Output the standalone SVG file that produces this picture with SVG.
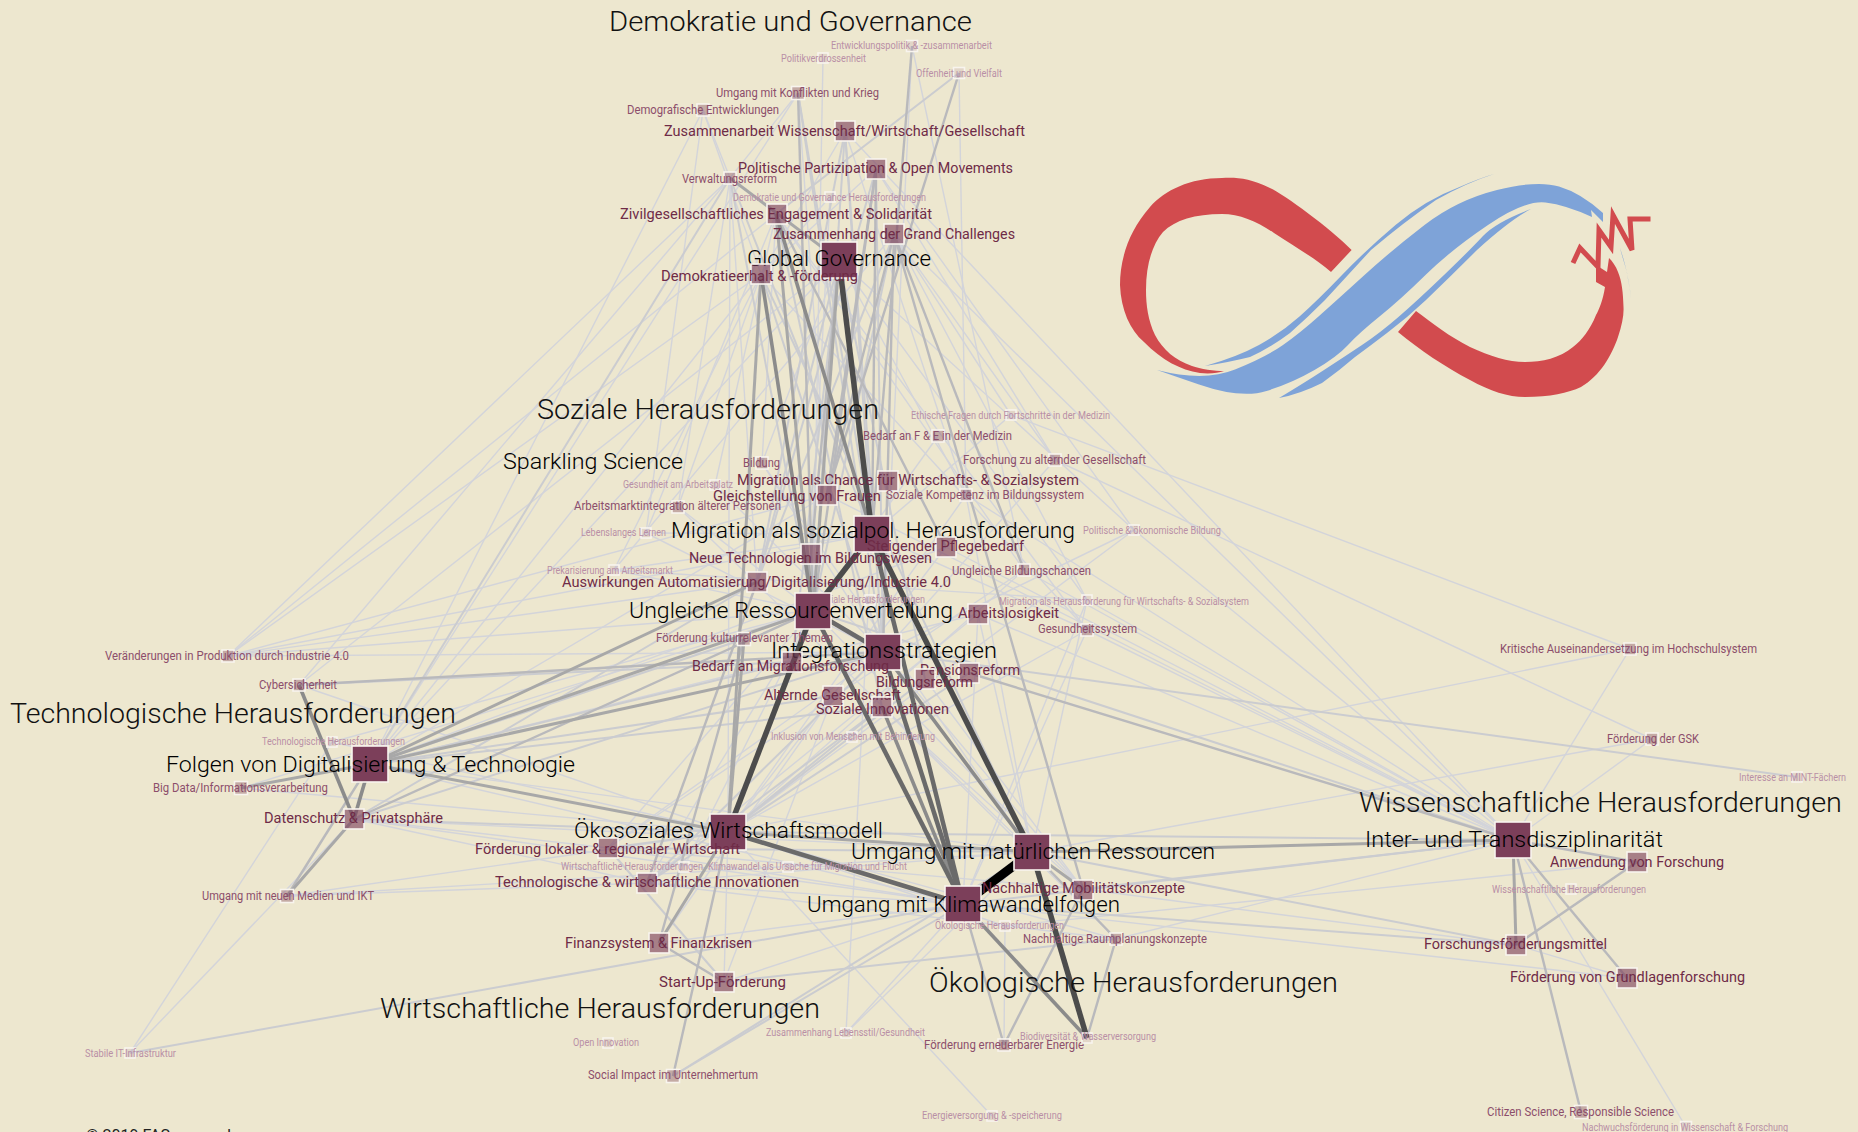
<svg xmlns="http://www.w3.org/2000/svg" width="1858" height="1132" viewBox="0 0 1858 1132">
<style>
text{font-family:Roboto,"Liberation Sans",sans-serif;}
.h{font-size:28px;font-weight:300;fill:#111}
.t22{font-size:22.5px;font-weight:350;fill:#000}
.t16{font-size:15.5px;fill:#6f2b47}
.t12{font-size:12px;fill:#8c4e6b}
.t10{font-size:10px;fill:#b98fa6}
rect{stroke:#f8f4ee;stroke-width:1.6}
.s36{fill:#7c3f5a}
.s20{fill:#7c3f5a;fill-opacity:.62}
.s13{fill:#7c3f5a;fill-opacity:.36}
.s10{fill:#a070a0;fill-opacity:.14}
#edges line{stroke-linecap:butt}
.a{stroke:#d3d4da;stroke-width:1.4}
.b{stroke:#cbccd0;stroke-width:2}
.c{stroke:#b9b9bc;stroke-width:2.4}
.d{stroke:#a8a8a8;stroke-width:3}
.e{stroke:#8b8b8b;stroke-width:3.6}
.f{stroke:#6a6a6a;stroke-width:4.5}
.g{stroke:#4c4c4c;stroke-width:5.5}
.k{stroke:#000;stroke-width:9}
</style>
<rect width="1858" height="1132" style="fill:#ede7cf;stroke:none"/>
<g id="logo" style="stroke:none">
<path fill="#d24b4e" d="M1351.6 250C1330 228 1285 195 1270 188C1250 178 1235 177 1222 178C1190 178 1165 190 1150 207C1128 232 1120 260 1120 285C1121 310 1130 330 1144 342C1162 360 1180 370 1200 373C1210 374 1218 373 1224 371C1215 371 1200 369 1192 366C1175 360 1163 350 1155 335C1148 320 1146 305 1146 290C1146 265 1152 245 1163 232C1175 220 1195 214 1222 214C1240 214 1258 222 1274 233C1295 247 1315 258 1331 272Z"/>
<path fill="#d24b4e" d="M1416 311L1398 332C1420 350 1445 367 1470 380C1490 391 1508 397 1525 397C1550 397 1568 393 1581 387C1600 376 1612 355 1618 337C1622 325 1624 315 1623.5 307C1623 292 1622 282 1618 272C1616 266 1612 261 1609 258L1607 272L1596 265L1596 282L1605 287C1603 300 1599 310 1596 315C1590 330 1582 340 1573 347C1560 358 1542 362 1525 362C1508 362 1490 356 1470 347C1450 337 1432 323 1416 311Z"/>
<path fill="none" stroke="#d24b4e" stroke-width="5" d="M1573 263L1580 248L1598 267L1599 230L1611 247L1613 215L1632 250L1630 219L1650.5 219"/>
<path fill="#7ea3d8" d="M1157 370Q1204 382 1235 369.5Q1266 357 1283 345Q1300 333 1318.5 316.5Q1337 300 1364.5 275Q1392 250 1424.5 225Q1457 200 1497 190Q1537 180 1559 186.5Q1581 193 1603 213L1603 222L1591 210L1592 217Q1566 205 1545.5 202.5Q1525 200 1488 225Q1451 250 1425.5 275Q1400 300 1379.5 316.5Q1359 333 1348 345Q1337 357 1314.5 370Q1292 383 1266.5 391Q1241 399 1199 384.5Q1180 378 1157 370Z"/>
<path fill="#7ea3d8" d="M1205 366Q1237 357 1259 345Q1281 333 1299.5 316.5Q1318 300 1342 275Q1366 250 1395.5 225Q1425 200 1459.5 187Q1480 178 1494 174Q1466 183 1436 200Q1404 222 1371 250Q1348 275 1325 300Q1307 318 1290 333Q1270 348 1250 357Q1230 362 1205 366Z"/>
<path fill="#7ea3d8" d="M1279 398Q1304 383 1324 370Q1344 357 1362 345Q1380 333 1399 316.5Q1418 300 1444 275Q1470 250 1483 236Q1496 222 1531 209Q1510 220 1477 250Q1452 275 1426 300Q1407 318 1387 333Q1370 346 1355 357Q1340 370 1322 383Q1300 394 1279 398Z"/>
<path fill="#7ea3d8" d="M1620 248C1625 262 1629 280 1631 298C1630 288 1628 280 1627 273C1625 265 1622 256 1620 248Z"/>
</g>
<g id="edges">
<line class="a" x1="703" y1="110" x2="370" y2="764"/>
<line class="a" x1="703" y1="110" x2="730" y2="178"/>
<line class="a" x1="703" y1="110" x2="761" y2="274"/>
<line class="a" x1="823" y1="58" x2="813" y2="611"/>
<line class="a" x1="912" y1="46" x2="1024" y2="570"/>
<line class="a" x1="912" y1="46" x2="883" y2="652"/>
<line class="a" x1="959" y1="73" x2="966" y2="495"/>
<line class="a" x1="798" y1="93" x2="730" y2="178"/>
<line class="a" x1="798" y1="93" x2="370" y2="764"/>
<line class="a" x1="798" y1="93" x2="827" y2="495"/>
<line class="a" x1="845" y1="131" x2="1513" y2="840"/>
<line class="a" x1="894" y1="234" x2="1513" y2="840"/>
<line class="a" x1="845" y1="131" x2="761" y2="274"/>
<line class="a" x1="730" y1="178" x2="228" y2="656"/>
<line class="a" x1="730" y1="178" x2="299" y2="685"/>
<line class="a" x1="730" y1="178" x2="757" y2="582"/>
<line class="a" x1="730" y1="178" x2="728" y2="832"/>
<line class="a" x1="830" y1="197" x2="761" y2="274"/>
<line class="a" x1="830" y1="197" x2="811" y2="554"/>
<line class="a" x1="761" y1="274" x2="228" y2="656"/>
<line class="a" x1="761" y1="274" x2="370" y2="764"/>
<line class="a" x1="761" y1="274" x2="1087" y2="630"/>
<line class="a" x1="776" y1="214" x2="228" y2="656"/>
<line class="a" x1="776" y1="214" x2="1087" y2="630"/>
<line class="a" x1="776" y1="214" x2="1024" y2="570"/>
<line class="a" x1="839" y1="260" x2="1134" y2="530"/>
<line class="a" x1="839" y1="260" x2="1087" y2="600"/>
<line class="a" x1="839" y1="260" x2="370" y2="764"/>
<line class="a" x1="839" y1="260" x2="299" y2="685"/>
<line class="a" x1="876" y1="169" x2="1055" y2="460"/>
<line class="a" x1="876" y1="169" x2="1134" y2="530"/>
<line class="a" x1="876" y1="169" x2="761" y2="274"/>
<line class="a" x1="894" y1="234" x2="1011" y2="415"/>
<line class="a" x1="894" y1="234" x2="1087" y2="600"/>
<line class="a" x1="894" y1="234" x2="1055" y2="460"/>
<line class="a" x1="894" y1="234" x2="614" y2="570"/>
<line class="a" x1="730" y1="178" x2="678" y2="507"/>
<line class="a" x1="703" y1="110" x2="646" y2="533"/>
<line class="a" x1="761" y1="274" x2="678" y2="507"/>
<line class="a" x1="761" y1="274" x2="614" y2="570"/>
<line class="a" x1="776" y1="214" x2="646" y2="533"/>
<line class="a" x1="776" y1="214" x2="715" y2="485"/>
<line class="a" x1="839" y1="260" x2="762" y2="463"/>
<line class="a" x1="839" y1="260" x2="966" y2="495"/>
<line class="a" x1="845" y1="131" x2="966" y2="495"/>
<line class="a" x1="776" y1="214" x2="762" y2="463"/>
<line class="a" x1="614" y1="570" x2="813" y2="611"/>
<line class="a" x1="614" y1="570" x2="872" y2="534"/>
<line class="a" x1="614" y1="570" x2="1087" y2="600"/>
<line class="a" x1="646" y1="533" x2="872" y2="534"/>
<line class="a" x1="646" y1="533" x2="883" y2="652"/>
<line class="a" x1="678" y1="507" x2="813" y2="611"/>
<line class="a" x1="678" y1="507" x2="1032" y2="852"/>
<line class="a" x1="715" y1="485" x2="883" y2="652"/>
<line class="a" x1="762" y1="463" x2="883" y2="652"/>
<line class="a" x1="762" y1="463" x2="1032" y2="852"/>
<line class="a" x1="1011" y1="415" x2="1630" y2="649"/>
<line class="a" x1="1011" y1="415" x2="872" y2="534"/>
<line class="a" x1="938" y1="436" x2="813" y2="611"/>
<line class="a" x1="1055" y1="460" x2="1652" y2="739"/>
<line class="a" x1="1055" y1="460" x2="883" y2="652"/>
<line class="a" x1="966" y1="495" x2="1513" y2="840"/>
<line class="a" x1="966" y1="495" x2="728" y2="832"/>
<line class="a" x1="1134" y1="530" x2="1513" y2="840"/>
<line class="a" x1="1134" y1="530" x2="883" y2="652"/>
<line class="a" x1="1134" y1="530" x2="728" y2="832"/>
<line class="a" x1="1024" y1="570" x2="1513" y2="840"/>
<line class="a" x1="1024" y1="570" x2="728" y2="832"/>
<line class="a" x1="1024" y1="570" x2="608" y2="848"/>
<line class="a" x1="1087" y1="600" x2="1513" y2="840"/>
<line class="a" x1="1087" y1="600" x2="963" y2="904"/>
<line class="a" x1="1087" y1="630" x2="872" y2="534"/>
<line class="a" x1="1087" y1="630" x2="728" y2="832"/>
<line class="a" x1="1087" y1="630" x2="1513" y2="840"/>
<line class="a" x1="1087" y1="630" x2="963" y2="904"/>
<line class="a" x1="978" y1="614" x2="1513" y2="840"/>
<line class="a" x1="978" y1="614" x2="647" y2="883"/>
<line class="a" x1="978" y1="614" x2="370" y2="764"/>
<line class="a" x1="946" y1="547" x2="1513" y2="840"/>
<line class="a" x1="946" y1="547" x2="728" y2="832"/>
<line class="a" x1="946" y1="547" x2="370" y2="764"/>
<line class="a" x1="827" y1="495" x2="1513" y2="840"/>
<line class="a" x1="827" y1="495" x2="370" y2="764"/>
<line class="a" x1="228" y1="656" x2="813" y2="611"/>
<line class="a" x1="228" y1="656" x2="883" y2="652"/>
<line class="a" x1="228" y1="656" x2="872" y2="534"/>
<line class="a" x1="228" y1="656" x2="827" y2="495"/>
<line class="a" x1="228" y1="656" x2="757" y2="582"/>
<line class="a" x1="299" y1="685" x2="728" y2="832"/>
<line class="a" x1="332" y1="742" x2="813" y2="611"/>
<line class="a" x1="332" y1="742" x2="728" y2="832"/>
<line class="a" x1="241" y1="788" x2="728" y2="832"/>
<line class="a" x1="241" y1="788" x2="813" y2="611"/>
<line class="a" x1="287" y1="896" x2="1032" y2="852"/>
<line class="a" x1="287" y1="896" x2="647" y2="883"/>
<line class="a" x1="287" y1="896" x2="728" y2="832"/>
<line class="a" x1="130" y1="1053" x2="332" y2="742"/>
<line class="a" x1="130" y1="1053" x2="354" y2="819"/>
<line class="a" x1="370" y1="764" x2="1032" y2="852"/>
<line class="a" x1="370" y1="764" x2="963" y2="904"/>
<line class="a" x1="354" y1="819" x2="608" y2="848"/>
<line class="a" x1="354" y1="819" x2="647" y2="883"/>
<line class="a" x1="354" y1="819" x2="963" y2="904"/>
<line class="a" x1="354" y1="819" x2="1032" y2="852"/>
<line class="a" x1="608" y1="848" x2="883" y2="652"/>
<line class="a" x1="608" y1="848" x2="813" y2="611"/>
<line class="a" x1="608" y1="848" x2="963" y2="904"/>
<line class="a" x1="647" y1="883" x2="813" y2="611"/>
<line class="a" x1="647" y1="883" x2="1032" y2="852"/>
<line class="a" x1="647" y1="883" x2="963" y2="904"/>
<line class="a" x1="684" y1="867" x2="813" y2="611"/>
<line class="a" x1="659" y1="943" x2="963" y2="904"/>
<line class="a" x1="659" y1="943" x2="833" y2="696"/>
<line class="a" x1="724" y1="982" x2="833" y2="696"/>
<line class="a" x1="724" y1="982" x2="728" y2="832"/>
<line class="a" x1="724" y1="982" x2="963" y2="904"/>
<line class="a" x1="728" y1="832" x2="992" y2="1116"/>
<line class="a" x1="846" y1="1033" x2="963" y2="904"/>
<line class="a" x1="846" y1="1033" x2="1032" y2="852"/>
<line class="a" x1="846" y1="1033" x2="872" y2="534"/>
<line class="a" x1="1004" y1="1045" x2="1005" y2="926"/>
<line class="a" x1="1087" y1="1038" x2="1032" y2="852"/>
<line class="a" x1="1005" y1="926" x2="728" y2="832"/>
<line class="a" x1="1116" y1="939" x2="728" y2="832"/>
<line class="a" x1="1116" y1="939" x2="647" y2="883"/>
<line class="a" x1="1083" y1="889" x2="608" y2="848"/>
<line class="a" x1="1083" y1="889" x2="813" y2="611"/>
<line class="a" x1="1083" y1="889" x2="883" y2="652"/>
<line class="a" x1="1083" y1="889" x2="882" y2="707"/>
<line class="a" x1="1083" y1="889" x2="925" y2="679"/>
<line class="a" x1="1116" y1="939" x2="882" y2="707"/>
<line class="a" x1="963" y1="904" x2="978" y2="614"/>
<line class="a" x1="1032" y1="852" x2="978" y2="614"/>
<line class="a" x1="1032" y1="852" x2="1087" y2="600"/>
<line class="a" x1="1032" y1="852" x2="966" y2="495"/>
<line class="a" x1="1630" y1="649" x2="1513" y2="840"/>
<line class="a" x1="1630" y1="649" x2="728" y2="832"/>
<line class="a" x1="1652" y1="739" x2="1513" y2="840"/>
<line class="a" x1="1652" y1="739" x2="1032" y2="852"/>
<line class="a" x1="1513" y1="840" x2="1686" y2="1127"/>
<line class="a" x1="1516" y1="945" x2="1627" y2="978"/>
<line class="a" x1="1516" y1="945" x2="1083" y2="889"/>
<line class="a" x1="1627" y1="978" x2="963" y2="904"/>
<line class="a" x1="1637" y1="862" x2="1005" y2="926"/>
<line class="a" x1="1513" y1="840" x2="1116" y2="939"/>
<line class="b" x1="959" y1="73" x2="776" y2="214"/>
<line class="b" x1="130" y1="1053" x2="963" y2="904"/>
<line class="b" x1="724" y1="982" x2="1116" y2="939"/>
<line class="b" x1="673" y1="1076" x2="1032" y2="852"/>
<line class="b" x1="673" y1="1076" x2="963" y2="904"/>
<line class="b" x1="608" y1="848" x2="724" y2="982"/>
<line class="b" x1="798" y1="93" x2="883" y2="652"/>
<line class="b" x1="798" y1="93" x2="872" y2="534"/>
<line class="b" x1="845" y1="131" x2="813" y2="611"/>
<line class="b" x1="845" y1="131" x2="872" y2="534"/>
<line class="b" x1="845" y1="131" x2="757" y2="582"/>
<line class="b" x1="845" y1="131" x2="883" y2="652"/>
<line class="b" x1="876" y1="169" x2="757" y2="582"/>
<line class="b" x1="876" y1="169" x2="883" y2="652"/>
<line class="b" x1="776" y1="214" x2="882" y2="707"/>
<line class="b" x1="730" y1="178" x2="872" y2="534"/>
<line class="b" x1="730" y1="178" x2="813" y2="611"/>
<line class="b" x1="730" y1="178" x2="370" y2="764"/>
<line class="b" x1="839" y1="260" x2="757" y2="582"/>
<line class="b" x1="839" y1="260" x2="925" y2="679"/>
<line class="b" x1="839" y1="260" x2="792" y2="662"/>
<line class="b" x1="761" y1="274" x2="883" y2="652"/>
<line class="b" x1="761" y1="274" x2="1032" y2="852"/>
<line class="b" x1="894" y1="234" x2="757" y2="582"/>
<line class="b" x1="894" y1="234" x2="813" y2="611"/>
<line class="b" x1="370" y1="764" x2="833" y2="696"/>
<line class="b" x1="370" y1="764" x2="882" y2="707"/>
<line class="b" x1="370" y1="764" x2="792" y2="662"/>
<line class="b" x1="370" y1="764" x2="744" y2="639"/>
<line class="b" x1="354" y1="819" x2="757" y2="582"/>
<line class="b" x1="354" y1="819" x2="883" y2="652"/>
<line class="b" x1="354" y1="819" x2="728" y2="832"/>
<line class="b" x1="299" y1="685" x2="792" y2="662"/>
<line class="b" x1="728" y1="832" x2="882" y2="707"/>
<line class="b" x1="728" y1="832" x2="925" y2="679"/>
<line class="b" x1="728" y1="832" x2="969" y2="673"/>
<line class="b" x1="647" y1="883" x2="882" y2="707"/>
<line class="b" x1="647" y1="883" x2="883" y2="652"/>
<line class="b" x1="608" y1="848" x2="728" y2="832"/>
<line class="b" x1="608" y1="848" x2="1032" y2="852"/>
<line class="b" x1="647" y1="883" x2="728" y2="832"/>
<line class="b" x1="963" y1="904" x2="1513" y2="840"/>
<line class="b" x1="728" y1="832" x2="1513" y2="840"/>
<line class="b" x1="1083" y1="889" x2="1513" y2="840"/>
<line class="b" x1="1516" y1="945" x2="963" y2="904"/>
<line class="b" x1="1516" y1="945" x2="1032" y2="852"/>
<line class="b" x1="813" y1="611" x2="1513" y2="840"/>
<line class="b" x1="883" y1="652" x2="1797" y2="777"/>
<line class="c" x1="912" y1="46" x2="872" y2="534"/>
<line class="c" x1="959" y1="73" x2="827" y2="495"/>
<line class="c" x1="798" y1="93" x2="813" y2="611"/>
<line class="c" x1="876" y1="169" x2="813" y2="611"/>
<line class="c" x1="876" y1="169" x2="872" y2="534"/>
<line class="c" x1="876" y1="169" x2="827" y2="495"/>
<line class="c" x1="894" y1="234" x2="883" y2="652"/>
<line class="c" x1="894" y1="234" x2="1024" y2="570"/>
<line class="c" x1="894" y1="234" x2="1083" y2="889"/>
<line class="c" x1="894" y1="234" x2="827" y2="495"/>
<line class="c" x1="776" y1="214" x2="946" y2="547"/>
<line class="c" x1="839" y1="260" x2="811" y2="554"/>
<line class="c" x1="969" y1="673" x2="1513" y2="840"/>
<line class="c" x1="299" y1="685" x2="883" y2="652"/>
<line class="c" x1="354" y1="819" x2="813" y2="611"/>
<line class="c" x1="757" y1="582" x2="647" y2="883"/>
<line class="c" x1="659" y1="943" x2="744" y2="639"/>
<line class="c" x1="659" y1="943" x2="724" y2="982"/>
<line class="c" x1="673" y1="1076" x2="728" y2="832"/>
<line class="c" x1="1004" y1="1045" x2="1083" y2="889"/>
<line class="c" x1="1004" y1="1045" x2="963" y2="904"/>
<line class="c" x1="1087" y1="1038" x2="1116" y2="939"/>
<line class="c" x1="1516" y1="945" x2="1637" y2="862"/>
<line class="c" x1="1513" y1="840" x2="1581" y2="1112"/>
<line class="c" x1="1513" y1="840" x2="1627" y2="978"/>
<line class="c" x1="1513" y1="840" x2="1637" y2="862"/>
<line class="c" x1="370" y1="764" x2="287" y2="896"/>
<line class="c" x1="1032" y1="852" x2="1116" y2="939"/>
<line class="d" x1="761" y1="274" x2="728" y2="832"/>
<line class="d" x1="839" y1="260" x2="813" y2="611"/>
<line class="d" x1="776" y1="214" x2="813" y2="611"/>
<line class="d" x1="370" y1="764" x2="757" y2="582"/>
<line class="d" x1="370" y1="764" x2="813" y2="611"/>
<line class="d" x1="370" y1="764" x2="883" y2="652"/>
<line class="d" x1="370" y1="764" x2="728" y2="832"/>
<line class="d" x1="370" y1="764" x2="241" y2="788"/>
<line class="d" x1="744" y1="639" x2="728" y2="832"/>
<line class="d" x1="728" y1="832" x2="1032" y2="852"/>
<line class="d" x1="659" y1="943" x2="728" y2="832"/>
<line class="d" x1="1032" y1="852" x2="1513" y2="840"/>
<line class="d" x1="1513" y1="840" x2="1516" y2="945"/>
<line class="d" x1="1032" y1="852" x2="1083" y2="889"/>
<line class="d" x1="354" y1="819" x2="287" y2="896"/>
<line class="d" x1="730" y1="178" x2="839" y2="260"/>
<line class="e" x1="776" y1="214" x2="872" y2="534"/>
<line class="e" x1="299" y1="685" x2="354" y2="819"/>
<line class="e" x1="370" y1="764" x2="354" y2="819"/>
<line class="e" x1="963" y1="904" x2="1087" y2="1038"/>
<line class="e" x1="883" y1="652" x2="1032" y2="852"/>
<line class="e" x1="882" y1="707" x2="963" y2="904"/>
<line class="e" x1="761" y1="274" x2="813" y2="611"/>
<line class="f" x1="813" y1="611" x2="883" y2="652"/>
<line class="f" x1="813" y1="611" x2="963" y2="904"/>
<line class="f" x1="872" y1="534" x2="963" y2="904"/>
<line class="f" x1="883" y1="652" x2="963" y2="904"/>
<line class="f" x1="728" y1="832" x2="963" y2="904"/>
<line class="g" x1="839" y1="260" x2="872" y2="534"/>
<line class="g" x1="813" y1="611" x2="872" y2="534"/>
<line class="g" x1="813" y1="611" x2="728" y2="832"/>
<line class="g" x1="872" y1="534" x2="1032" y2="852"/>
<line class="g" x1="1032" y1="852" x2="1087" y2="1038"/>
<line class="k" x1="1032" y1="852" x2="963" y2="904"/>
</g>
<g id="cluster-labels">
<text class="h" x="609" y="31" textLength="363" lengthAdjust="spacingAndGlyphs">Demokratie und Governance</text>
<text class="h" x="537" y="419" textLength="342" lengthAdjust="spacingAndGlyphs">Soziale Herausforderungen</text>
<text class="h" x="10" y="723" textLength="446" lengthAdjust="spacingAndGlyphs">Technologische Herausforderungen</text>
<text class="h" x="380" y="1018" textLength="440" lengthAdjust="spacingAndGlyphs">Wirtschaftliche Herausforderungen</text>
<text class="h" x="929" y="992" textLength="409" lengthAdjust="spacingAndGlyphs">Ökologische Herausforderungen</text>
<text class="h" x="1359" y="812" textLength="483" lengthAdjust="spacingAndGlyphs">Wissenschaftliche Herausforderungen</text>
<text class="t22" x="503" y="469" textLength="180" lengthAdjust="spacingAndGlyphs">Sparkling Science</text>
<text x="86" y="1141" style="font-size:16px;fill:#222" textLength="150" lengthAdjust="spacingAndGlyphs">© 2019 FAS.research</text>
</g>
<g id="n1"><rect class="s10" x="906.5" y="40.5" width="11" height="11"/><text class="t10" x="831" y="49" textLength="161" lengthAdjust="spacingAndGlyphs">Entwicklungspolitik &amp; -zusammenarbeit</text></g>
<g id="n2"><rect class="s10" x="818" y="53" width="10" height="10"/><text class="t10" x="781" y="62" textLength="85" lengthAdjust="spacingAndGlyphs">Politikverdrossenheit</text></g>
<g id="n3"><rect class="s10" x="953.5" y="67.5" width="11" height="11"/><text class="t10" x="916" y="77" textLength="86" lengthAdjust="spacingAndGlyphs">Offenheit und Vielfalt</text></g>
<g id="n4"><rect class="s13" x="791.5" y="86.5" width="13" height="13"/><text class="t12" x="716" y="97" textLength="163" lengthAdjust="spacingAndGlyphs">Umgang mit Konflikten und Krieg</text></g>
<g id="n5"><rect class="s13" x="697" y="104" width="12" height="12"/><text class="t12" x="627" y="114" textLength="152" lengthAdjust="spacingAndGlyphs">Demografische Entwicklungen</text></g>
<g id="n6"><rect class="s20" x="835" y="121" width="20" height="20"/><text class="t16" x="664" y="136" textLength="361" lengthAdjust="spacingAndGlyphs">Zusammenarbeit Wissenschaft/Wirtschaft/Gesellschaft</text></g>
<g id="n7"><rect class="s20" x="866" y="159" width="20" height="20"/><text class="t16" x="738" y="173" textLength="275" lengthAdjust="spacingAndGlyphs">Politische Partizipation &amp; Open Movements</text></g>
<g id="n8"><rect class="s13" x="724" y="172" width="12" height="12"/><text class="t12" x="682" y="183" textLength="95" lengthAdjust="spacingAndGlyphs">Verwaltungsreform</text></g>
<g id="n9"><rect class="s10" x="825" y="192" width="10" height="10"/><text class="t10" x="733" y="201" textLength="193" lengthAdjust="spacingAndGlyphs">Demokratie und Governance Herausforderungen</text></g>
<g id="n10"><rect class="s20" x="767" y="204" width="20" height="20"/><text class="t16" x="620" y="219" textLength="312" lengthAdjust="spacingAndGlyphs">Zivilgesellschaftliches Engagement &amp; Solidarität</text></g>
<g id="n11"><rect class="s20" x="884" y="224" width="20" height="20"/><text class="t16" x="773" y="239" textLength="242" lengthAdjust="spacingAndGlyphs">Zusammenhang der Grand Challenges</text></g>
<g id="n12"><rect class="s36" x="821" y="242" width="36" height="36"/><text class="t22" x="747" y="266" textLength="184" lengthAdjust="spacingAndGlyphs">Global Governance</text></g>
<g id="n13"><rect class="s20" x="751" y="264" width="20" height="20"/><text class="t16" x="661" y="281" textLength="197" lengthAdjust="spacingAndGlyphs">Demokratieerhalt &amp; -förderung</text></g>
<g id="n14"><rect class="s10" x="1006" y="410" width="10" height="10"/><text class="t10" x="911" y="419" textLength="199" lengthAdjust="spacingAndGlyphs">Ethische Fragen durch Fortschritte in der Medizin</text></g>
<g id="n15"><rect class="s13" x="932" y="430" width="12" height="12"/><text class="t12" x="863" y="440" textLength="149" lengthAdjust="spacingAndGlyphs">Bedarf an F &amp; E in der Medizin</text></g>
<g id="n16"><rect class="s13" x="1049" y="454" width="12" height="12"/><text class="t12" x="963" y="464" textLength="183" lengthAdjust="spacingAndGlyphs">Forschung zu alternder Gesellschaft</text></g>
<g id="n17"><rect class="s13" x="756" y="457" width="12" height="12"/><text class="t12" x="743" y="467" textLength="37" lengthAdjust="spacingAndGlyphs">Bildung</text></g>
<g id="n18"><rect class="s20" x="878" y="471" width="20" height="20"/><text class="t16" x="737" y="485" textLength="342" lengthAdjust="spacingAndGlyphs">Migration als Chance für Wirtschafts- &amp; Sozialsystem</text></g>
<g id="n19"><rect class="s10" x="710" y="480" width="10" height="10"/><text class="t10" x="623" y="488" textLength="110" lengthAdjust="spacingAndGlyphs">Gesundheit am Arbeitsplatz</text></g>
<g id="n20"><rect class="s20" x="817" y="485" width="20" height="20"/><text class="t16" x="713" y="501" textLength="168" lengthAdjust="spacingAndGlyphs">Gleichstellung von Frauen</text></g>
<g id="n21"><rect class="s13" x="960" y="489" width="12" height="12"/><text class="t12" x="886" y="499" textLength="198" lengthAdjust="spacingAndGlyphs">Soziale Kompetenz im Bildungssystem</text></g>
<g id="n22"><rect class="s13" x="672" y="501" width="12" height="12"/><text class="t12" x="574" y="510" textLength="207" lengthAdjust="spacingAndGlyphs">Arbeitsmarktintegration älterer Personen</text></g>
<g id="n23"><rect class="s10" x="641" y="528" width="10" height="10"/><text class="t10" x="581" y="536" textLength="85" lengthAdjust="spacingAndGlyphs">Lebenslanges Lernen</text></g>
<g id="n24"><rect class="s36" x="854" y="516" width="36" height="36"/><text class="t22" x="671" y="538" textLength="404" lengthAdjust="spacingAndGlyphs">Migration als sozialpol. Herausforderung</text></g>
<g id="n25"><rect class="s20" x="936" y="537" width="20" height="20"/><text class="t16" x="867" y="551" textLength="157" lengthAdjust="spacingAndGlyphs">Steigender Pflegebedarf</text></g>
<g id="n26"><rect class="s10" x="1129" y="525" width="10" height="10"/><text class="t10" x="1083" y="534" textLength="138" lengthAdjust="spacingAndGlyphs">Politische &amp; ökonomische Bildung</text></g>
<g id="n27"><rect class="s20" x="801" y="544" width="20" height="20"/><text class="t16" x="689" y="563" textLength="243" lengthAdjust="spacingAndGlyphs">Neue Technologien im Bildungswesen</text></g>
<g id="n28"><rect class="s10" x="609" y="565" width="10" height="10"/><text class="t10" x="547" y="574" textLength="126" lengthAdjust="spacingAndGlyphs">Prekarisierung am Arbeitsmarkt</text></g>
<g id="n29"><rect class="s13" x="1018" y="564" width="12" height="12"/><text class="t12" x="952" y="575" textLength="139" lengthAdjust="spacingAndGlyphs">Ungleiche Bildungschancen</text></g>
<g id="n30"><rect class="s20" x="747" y="572" width="20" height="20"/><text class="t16" x="562" y="587" textLength="389" lengthAdjust="spacingAndGlyphs">Auswirkungen Automatisierung/Digitalisierung/Industrie 4.0</text></g>
<g id="n31"><rect class="s10" x="865" y="595" width="10" height="10"/><text class="t10" x="816" y="603" textLength="109" lengthAdjust="spacingAndGlyphs">Soziale Herausforderungen</text></g>
<g id="n32"><rect class="s10" x="1082" y="595" width="10" height="10"/><text class="t10" x="999" y="605" textLength="250" lengthAdjust="spacingAndGlyphs">Migration als Herausforderung für Wirtschafts- &amp; Sozialsystem</text></g>
<g id="n33"><rect class="s36" x="795" y="593" width="36" height="36"/><text class="t22" x="629" y="618" textLength="324" lengthAdjust="spacingAndGlyphs">Ungleiche Ressourcenverteilung</text></g>
<g id="n34"><rect class="s20" x="968" y="604" width="20" height="20"/><text class="t16" x="958" y="618" textLength="101" lengthAdjust="spacingAndGlyphs">Arbeitslosigkeit</text></g>
<g id="n35"><rect class="s13" x="1081" y="624" width="12" height="12"/><text class="t12" x="1038" y="633" textLength="99" lengthAdjust="spacingAndGlyphs">Gesundheitssystem</text></g>
<g id="n36"><rect class="s13" x="737.5" y="632.5" width="13" height="13"/><text class="t12" x="656" y="642" textLength="177" lengthAdjust="spacingAndGlyphs">Förderung kulturrelevanter Themen</text></g>
<g id="n37"><rect class="s36" x="865" y="634" width="36" height="36"/><text class="t22" x="771" y="658" textLength="226" lengthAdjust="spacingAndGlyphs">Integrationsstrategien</text></g>
<g id="n38"><rect class="s20" x="782" y="652" width="20" height="20"/><text class="t16" x="692" y="671" textLength="197" lengthAdjust="spacingAndGlyphs">Bedarf an Migrationsforschung</text></g>
<g id="n39"><rect class="s20" x="959" y="663" width="20" height="20"/><text class="t16" x="920" y="675" textLength="100" lengthAdjust="spacingAndGlyphs">Pensionsreform</text></g>
<g id="n40"><rect class="s20" x="915" y="669" width="20" height="20"/><text class="t16" x="876" y="687" textLength="97" lengthAdjust="spacingAndGlyphs">Bildungsreform</text></g>
<g id="n41"><rect class="s20" x="823" y="686" width="20" height="20"/><text class="t16" x="764" y="700" textLength="137" lengthAdjust="spacingAndGlyphs">Alternde Gesellschaft</text></g>
<g id="n42"><rect class="s20" x="872" y="697" width="20" height="20"/><text class="t16" x="816" y="714" textLength="133" lengthAdjust="spacingAndGlyphs">Soziale Innovationen</text></g>
<g id="n43"><rect class="s10" x="847" y="732" width="10" height="10"/><text class="t10" x="771" y="740" textLength="164" lengthAdjust="spacingAndGlyphs">Inklusion von Menschen mit Behinderung</text></g>
<g id="n44"><rect class="s10" x="327" y="737" width="10" height="10"/><text class="t10" x="262" y="745" textLength="143" lengthAdjust="spacingAndGlyphs">Technologische Herausforderungen</text></g>
<g id="n45"><rect class="s13" x="222" y="650" width="12" height="12"/><text class="t12" x="105" y="660" textLength="244" lengthAdjust="spacingAndGlyphs">Veränderungen in Produktion durch Industrie 4.0</text></g>
<g id="n46"><rect class="s13" x="293" y="679" width="12" height="12"/><text class="t12" x="259" y="689" textLength="78" lengthAdjust="spacingAndGlyphs">Cybersicherheit</text></g>
<g id="n47"><rect class="s36" x="352" y="746" width="36" height="36"/><text class="t22" x="166" y="772" textLength="409" lengthAdjust="spacingAndGlyphs">Folgen von Digitalisierung &amp; Technologie</text></g>
<g id="n48"><rect class="s13" x="234.5" y="781.5" width="13" height="13"/><text class="t12" x="153" y="792" textLength="175" lengthAdjust="spacingAndGlyphs">Big Data/Informationsverarbeitung</text></g>
<g id="n49"><rect class="s20" x="344" y="809" width="20" height="20"/><text class="t16" x="264" y="823" textLength="179" lengthAdjust="spacingAndGlyphs">Datenschutz &amp; Privatsphäre</text></g>
<g id="n50"><rect class="s13" x="280.5" y="889.5" width="13" height="13"/><text class="t12" x="202" y="900" textLength="172" lengthAdjust="spacingAndGlyphs">Umgang mit neuen Medien und IKT</text></g>
<g id="n51"><rect class="s36" x="710" y="814" width="36" height="36"/><text class="t22" x="574" y="838" textLength="309" lengthAdjust="spacingAndGlyphs">Ökosoziales Wirtschaftsmodell</text></g>
<g id="n52"><rect class="s20" x="598" y="838" width="20" height="20"/><text class="t16" x="475" y="854" textLength="265" lengthAdjust="spacingAndGlyphs">Förderung lokaler &amp; regionaler Wirtschaft</text></g>
<g id="n53"><rect class="s36" x="1014" y="834" width="36" height="36"/><text class="t22" x="851" y="859" textLength="364" lengthAdjust="spacingAndGlyphs">Umgang mit natürlichen Ressourcen</text></g>
<g id="n54"><rect class="s10" x="679" y="862" width="10" height="10"/><text class="t10" x="561" y="870" textLength="142" lengthAdjust="spacingAndGlyphs">Wirtschaftliche Herausforderungen</text></g>
<g id="n55"><rect class="s10" x="783" y="862" width="10" height="10"/><text class="t10" x="708" y="870" textLength="199" lengthAdjust="spacingAndGlyphs">Klimawandel als Ursache für Migration und Flucht</text></g>
<g id="n56"><rect class="s20" x="637" y="873" width="20" height="20"/><text class="t16" x="495" y="887" textLength="304" lengthAdjust="spacingAndGlyphs">Technologische &amp; wirtschaftliche Innovationen</text></g>
<g id="n57"><rect class="s20" x="1073" y="880" width="20" height="20"/><text class="t16" x="982" y="893" textLength="203" lengthAdjust="spacingAndGlyphs">Nachhaltige Mobilitätskonzepte</text></g>
<g id="n58"><rect class="s36" x="945" y="886" width="36" height="36"/><text class="t22" x="807" y="912" textLength="313" lengthAdjust="spacingAndGlyphs">Umgang mit Klimawandelfolgen</text></g>
<g id="n59"><rect class="s10" x="1000" y="921" width="10" height="10"/><text class="t10" x="935" y="929" textLength="129" lengthAdjust="spacingAndGlyphs">Ökologische Herausforderungen</text></g>
<g id="n60"><rect class="s13" x="1110" y="933" width="12" height="12"/><text class="t12" x="1023" y="943" textLength="184" lengthAdjust="spacingAndGlyphs">Nachhaltige Raumplanungskonzepte</text></g>
<g id="n61"><rect class="s20" x="649" y="933" width="20" height="20"/><text class="t16" x="565" y="948" textLength="187" lengthAdjust="spacingAndGlyphs">Finanzsystem &amp; Finanzkrisen</text></g>
<g id="n62"><rect class="s20" x="714" y="972" width="20" height="20"/><text class="t16" x="659" y="987" textLength="127" lengthAdjust="spacingAndGlyphs">Start-Up-Förderung</text></g>
<g id="n63"><rect class="s10" x="841" y="1028" width="10" height="10"/><text class="t10" x="766" y="1036" textLength="159" lengthAdjust="spacingAndGlyphs">Zusammenhang Lebensstil/Gesundheit</text></g>
<g id="n64"><rect class="s13" x="998" y="1039" width="12" height="12"/><text class="t12" x="924" y="1049" textLength="160" lengthAdjust="spacingAndGlyphs">Förderung erneuerbarer Energie</text></g>
<g id="n65"><rect class="s10" x="1082" y="1033" width="10" height="10"/><text class="t10" x="1020" y="1040" textLength="136" lengthAdjust="spacingAndGlyphs">Biodiversität &amp; Wasserversorgung</text></g>
<g id="n66"><rect class="s10" x="125" y="1048" width="10" height="10"/><text class="t10" x="85" y="1057" textLength="91" lengthAdjust="spacingAndGlyphs">Stabile IT-Infrastruktur</text></g>
<g id="n67"><rect class="s10" x="603" y="1038" width="10" height="10"/><text class="t10" x="573" y="1046" textLength="66" lengthAdjust="spacingAndGlyphs">Open Innovation</text></g>
<g id="n68"><rect class="s13" x="666.5" y="1069.5" width="13" height="13"/><text class="t12" x="588" y="1079" textLength="170" lengthAdjust="spacingAndGlyphs">Social Impact im Unternehmertum</text></g>
<g id="n69"><rect class="s10" x="987" y="1111" width="10" height="10"/><text class="t10" x="922" y="1119" textLength="140" lengthAdjust="spacingAndGlyphs">Energieversorgung &amp; -speicherung</text></g>
<g id="n70"><rect class="s13" x="1624" y="643" width="12" height="12"/><text class="t12" x="1500" y="653" textLength="257" lengthAdjust="spacingAndGlyphs">Kritische Auseinandersetzung im Hochschulsystem</text></g>
<g id="n71"><rect class="s13" x="1646" y="733" width="12" height="12"/><text class="t12" x="1607" y="743" textLength="92" lengthAdjust="spacingAndGlyphs">Förderung der GSK</text></g>
<g id="n72"><rect class="s10" x="1792" y="772" width="10" height="10"/><text class="t10" x="1739" y="781" textLength="107" lengthAdjust="spacingAndGlyphs">Interesse an MINT-Fächern</text></g>
<g id="n73"><rect class="s36" x="1495" y="822" width="36" height="36"/><text class="t22" x="1365" y="847" textLength="298" lengthAdjust="spacingAndGlyphs">Inter- und Transdisziplinarität</text></g>
<g id="n74"><rect class="s20" x="1627" y="852" width="20" height="20"/><text class="t16" x="1550" y="867" textLength="174" lengthAdjust="spacingAndGlyphs">Anwendung von Forschung</text></g>
<g id="n75"><rect class="s10" x="1566" y="884" width="10" height="10"/><text class="t10" x="1492" y="893" textLength="154" lengthAdjust="spacingAndGlyphs">Wissenschaftliche Herausforderungen</text></g>
<g id="n76"><rect class="s20" x="1506" y="935" width="20" height="20"/><text class="t16" x="1424" y="949" textLength="183" lengthAdjust="spacingAndGlyphs">Forschungsförderungsmittel</text></g>
<g id="n77"><rect class="s20" x="1617" y="968" width="20" height="20"/><text class="t16" x="1510" y="982" textLength="235" lengthAdjust="spacingAndGlyphs">Förderung von Grundlagenforschung</text></g>
<g id="n78"><rect class="s13" x="1574.5" y="1105.5" width="13" height="13"/><text class="t12" x="1487" y="1116" textLength="187" lengthAdjust="spacingAndGlyphs">Citizen Science, Responsible Science</text></g>
<g id="n79"><rect class="s10" x="1680.5" y="1121.5" width="11" height="11"/><text class="t10" x="1582" y="1131" textLength="206" lengthAdjust="spacingAndGlyphs">Nachwuchsförderung in Wissenschaft &amp; Forschung</text></g>
</svg>
